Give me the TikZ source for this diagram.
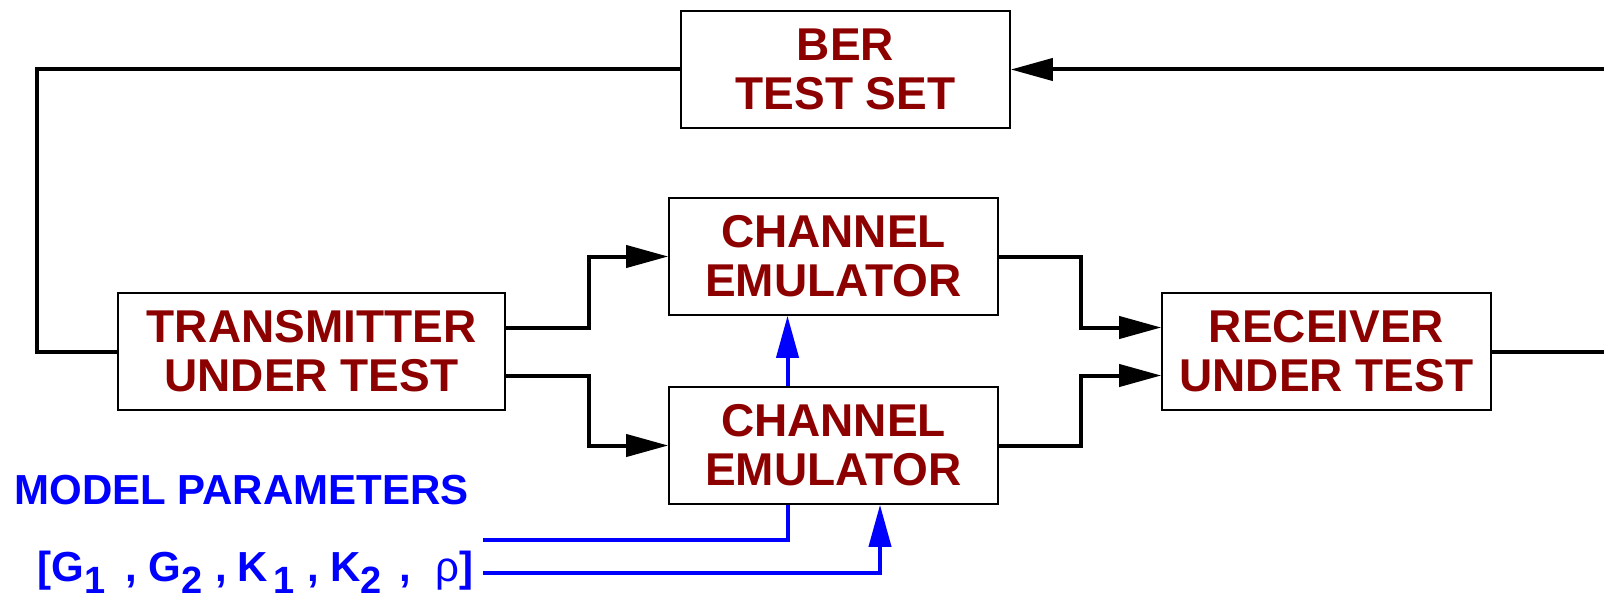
\documentclass[tikz,border=0pt]{standalone}
\usepackage{fontspec}
\setmainfont{Liberation Sans}
\usepackage{tikz}
\usetikzlibrary{arrows.meta}
\definecolor{boxtext}{RGB}{140,0,0}
\newcommand{\lowsub}[1]{\raisebox{-6pt}{\fontsize{19}{19}\selectfont #1}}

\begin{document}
\begin{tikzpicture}[x=0.5pt,y=-0.5pt,
    block/.style={draw, line width=0.8pt, minimum width=164.5pt, minimum height=58.5pt,
      align=center, inner sep=0pt, text=boxtext, font=\fontsize{23}{24.5}\selectfont\bfseries},
    wire/.style={line width=2pt, -{Triangle[length=21pt,width=11pt]}},
    ctrl/.style={line width=2pt, blue, -{Triangle[length=21pt,width=11pt]}},
    param/.style={blue, inner sep=0pt, font=\fontsize{21}{21}\selectfont\bfseries}]
        \useasboundingbox (0,0) rectangle (1604,599);
        \clip (0,0) rectangle (1604,599);
        % blocks
        \node[block] (ber) at (845.5,69.5) {BER\\TEST SET};
        \node[block] (chanA) at (833.5,256.5) {CHANNEL\\EMULATOR};
        \node[block] (chanB) at (833.5,445.5) {CHANNEL\\EMULATOR};
        \node[block, minimum width=193.5pt] (tx) at (311.5,351.5) {TRANSMITTER\\UNDER TEST};
        \node[block] (rx) at (1326.5,351.5) {RECEIVER\\UNDER TEST};
        % model parameters
        \node[param, anchor=west] (mp) at (14,490) {MODEL PARAMETERS};
        \node[param, anchor=base west] (pv) at (37,581) {[G\lowsub{1}\hspace{10pt},\hspace{6pt}G\lowsub{2}\hspace{6.5pt},\hspace{5pt}K\hspace{3pt}\lowsub{1}\hspace{6.5pt},\hspace{5.5pt}K\lowsub{2}\hspace{9pt},\hspace{12pt}{\mdseries ρ}]};
        \coordinate (loopL) at (37,69.5);
        \coordinate (edgeT) at (1604,69.5);
        \coordinate (edgeR) at (1604,351.5);
        \coordinate (pA) at (483,540);
        \coordinate (pB) at (483,573);
        % feedback loop
        \draw[wire, -] (ber.west) -- (loopL) |- (tx.west);
        \draw[wire, {Triangle[length=21pt,width=11pt]}-] (ber.east) -- (edgeT);
        \draw[wire, -] (rx.east) -- (edgeR);
        % two paths through the emulators
        \draw[wire] ([yshift=12pt]tx.east) -- ++(83,0) |- (chanA.west);
        \draw[wire] ([yshift=-12pt]tx.east) -- ++(83,0) |- (chanB.west);
        \draw[wire] (chanA.east) -- ++(82,0) |- ([yshift=12pt]rx.west);
        \draw[wire] (chanB.east) -- ++(82,0) |- ([yshift=-12pt]rx.west);
        % parameter inputs
        \draw[ctrl] ([xshift=-23pt]chanB.north) -- ([xshift=-23pt]chanA.south);
        \draw[ctrl, -] (pA) -| ([xshift=-23pt]chanB.south);
        \draw[ctrl] (pB) -| ([xshift=23.25pt]chanB.south);
\end{tikzpicture}
\end{document}
